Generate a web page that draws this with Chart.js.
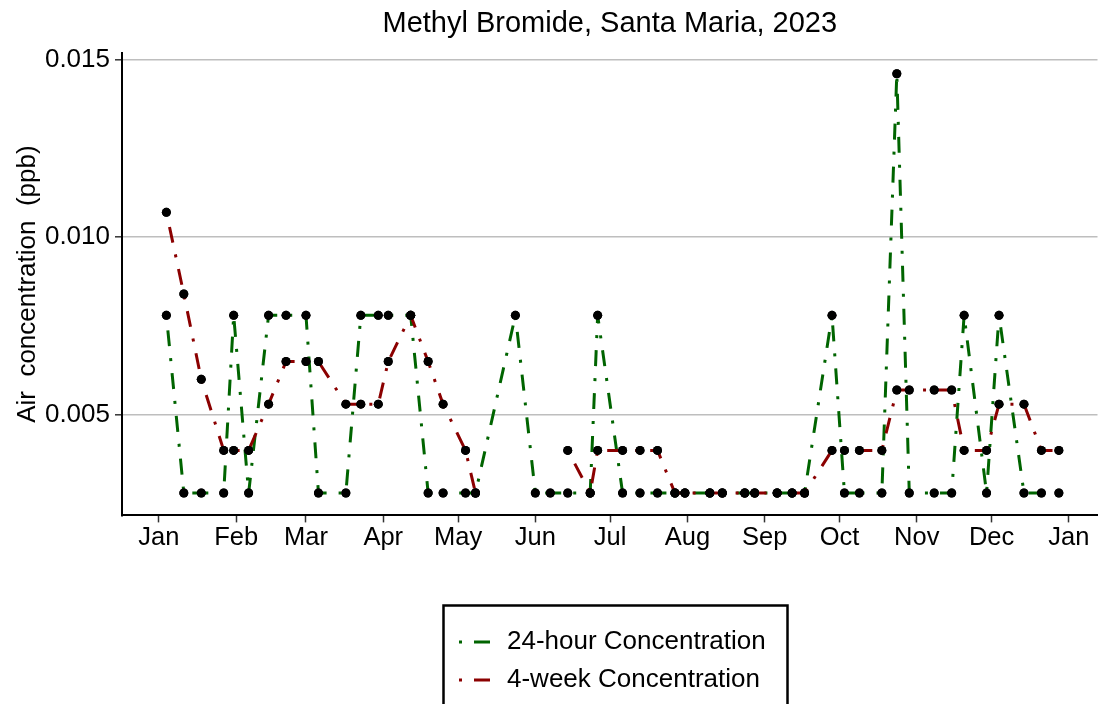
<!DOCTYPE html>
<html>
<head>
<meta charset="utf-8">
<title>Methyl Bromide, Santa Maria, 2023</title>
<script src="https://cdn.jsdelivr.net/npm/chart.js@4/dist/chart.umd.min.js"></script>
<style>
  html, body { margin: 0; padding: 0; background: #fff; }
  #wrap { width: 1102px; height: 704px; }
</style>
</head>
<body>
<div id="wrap"><canvas id="chart" width="1102" height="704"></canvas></div>
<script>
// sampling dates (both series share them)
const sampleDates = [
  '2023-01-04', '2023-01-11', '2023-01-18', '2023-01-27', '2023-01-31', '2023-02-06',
  '2023-02-14', '2023-02-21', '2023-03-01', '2023-03-06', '2023-03-17', '2023-03-23',
  '2023-03-30', '2023-04-03', '2023-04-12', '2023-04-19', '2023-04-25', '2023-05-04',
  '2023-05-08', '2023-05-24', '2023-06-01', '2023-06-07', '2023-06-14', '2023-06-23',
  '2023-06-26', '2023-07-06', '2023-07-13', '2023-07-20', '2023-07-27', '2023-07-31',
  '2023-08-10', '2023-08-15', '2023-08-24', '2023-08-28', '2023-09-06', '2023-09-12',
  '2023-09-17', '2023-09-28', '2023-10-03', '2023-10-09', '2023-10-18', '2023-10-24',
  '2023-10-29', '2023-11-08', '2023-11-15', '2023-11-20', '2023-11-29', '2023-12-04',
  '2023-12-14', '2023-12-21', '2023-12-28'
];

const hourValues = [
  0.0078, 0.0028, 0.0028, 0.0028, 0.0078, 0.0028,
  0.0078, 0.0078, 0.0078, 0.0028, 0.0028, 0.0078,
  0.0078, 0.0078, 0.0078, 0.0028, 0.0028, 0.0028,
  0.0028, 0.0078, 0.0028, 0.0028, 0.0028, 0.0028,
  0.0078, 0.0028, 0.0028, 0.0028, 0.0028, 0.0028,
  0.0028, 0.0028, 0.0028, 0.0028, 0.0028, 0.0028,
  0.0028, 0.0078, 0.0028, 0.0028, 0.0028, 0.0146,
  0.0028, 0.0028, 0.0028, 0.0078, 0.0028, 0.0078,
  0.0028, 0.0028, 0.0028
];

const weekValues = [
  0.0107, 0.0084, 0.0060, 0.0040, 0.0040, 0.0040,
  0.0053, 0.0065, 0.0065, 0.0065, 0.0053, 0.0053,
  0.0053, 0.0065, 0.0078, 0.0065, 0.0053, 0.0040,
  0.0028, null, null, null, 0.0040, 0.0028,
  0.0040, 0.0040, 0.0040, 0.0040, 0.0028, 0.0028,
  0.0028, 0.0028, 0.0028, 0.0028, 0.0028, 0.0028,
  0.0028, 0.0040, 0.0040, 0.0040, 0.0040, 0.0057,
  0.0057, 0.0057, 0.0057, 0.0040, 0.0040, 0.0053,
  0.0053, 0.0040, 0.0040
];

const monthTickDates = [
  '2023-01-01', '2023-02-01', '2023-03-01', '2023-04-01', '2023-05-01', '2023-06-01', '2023-07-01',
  '2023-08-01', '2023-09-01', '2023-10-01', '2023-11-01', '2023-12-01', '2024-01-01'
];
const monthLabels = ['Jan', 'Feb', 'Mar', 'Apr', 'May', 'Jun', 'Jul', 'Aug', 'Sep', 'Oct', 'Nov', 'Dec', 'Jan'];

const yTickValues = [0.005, 0.010, 0.015];
const yTickLabels = ['0.005', '0.010', '0.015'];

const FONT = '"Liberation Sans", Arial, sans-serif';
const LEGEND_LEFT = 447;
const LEGEND_TOP = 617;

// days since 2023-01-01
function dayOf(s) {
  const [y, m, d] = s.split('-').map(Number);
  return (Date.UTC(y, m - 1, d) - Date.UTC(2023, 0, 1)) / 86400000;
}

function toPoints(values) {
  return sampleDates.map((d, i) => ({ x: dayOf(d), y: values[i] }));
}

const lineStyle = {
  borderWidth: 3,
  borderDash: [3, 12, 16, 12],
  borderDashOffset: 0,
  borderJoinStyle: 'round',
  pointRadius: 4.5,
  pointHoverRadius: 4.5,
  pointBackgroundColor: '#000',
  pointBorderWidth: 0,
  spanGaps: false,
  tension: 0,
  fill: false
};

// put the legend in a bordered box below the plot, and keep points above the lines
const layoutFix = {
  id: 'layoutFix',
  afterLayout(chart) {
    const lg = chart.legend;
    lg.left = LEGEND_LEFT;
    lg.top = LEGEND_TOP;
    lg.right = LEGEND_LEFT + 336;
    lg.bottom = 760;
  },
  afterDatasetsDraw(chart) {
    const ctx = chart.ctx;
    chart.getSortedVisibleDatasetMetas().forEach(meta => {
      meta.data.forEach(pt => pt.draw(ctx, chart.chartArea));
    });
  },
  afterDraw(chart) {
    const ctx = chart.ctx;
    ctx.save();
    ctx.strokeStyle = '#000';
    ctx.lineWidth = 2.5;
    ctx.setLineDash([]);
    ctx.strokeRect(LEGEND_LEFT - 3.5, LEGEND_TOP - 11.5, 344, 130);
    ctx.restore();
  }
};

new Chart(document.getElementById('chart'), {
  type: 'line',
  data: {
    datasets: [
      {
        label: '24-hour Concentration',
        data: toPoints(hourValues),
        borderColor: '#006400',
        order: 1,
        ...lineStyle
      },
      {
        label: '4-week Concentration',
        data: toPoints(weekValues),
        borderColor: '#8B0000',
        order: 0,
        ...lineStyle
      }
    ]
  },
  options: {
    responsive: false,
    animation: false,
    devicePixelRatio: 1,
    events: [],
    layout: { padding: { left: 0, right: 0, top: 0, bottom: 143.6 } },
    plugins: {
      title: {
        display: true,
        fullSize: false,
        text: 'Methyl Bromide, Santa Maria, 2023',
        color: '#000',
        font: { family: FONT, size: 29, weight: 'normal' },
        padding: { top: 7, bottom: 11 }
      },
      legend: {
        position: 'chartArea',
        align: 'start',
        labels: {
          usePointStyle: true,
          pointStyle: 'line',
          pointStyleWidth: 35,
          padding: 12,
          color: '#000',
          font: { family: FONT, size: 26 },
          generateLabels: chart => chart.data.datasets.map((ds, i) => ({
            text: ds.label,
            fillStyle: ds.borderColor,
            strokeStyle: ds.borderColor,
            lineWidth: ds.borderWidth,
            lineDash: ds.borderDash,
            lineDashOffset: ds.borderDashOffset,
            pointStyle: 'line',
            fontColor: '#000',
            hidden: false,
            datasetIndex: i
          }))
        }
      },
      tooltip: { enabled: false }
    },
    scales: {
      x: {
        type: 'linear',
        min: -14.8,
        max: 376.5,
        afterBuildTicks: scale => {
          scale.ticks = monthTickDates.map(d => ({ value: dayOf(d) }));
        },
        afterFit: scale => { scale.height = 45; },
        ticks: {
          autoSkip: false,
          maxRotation: 0,
          padding: 0,
          color: '#000',
          font: { family: FONT, size: 25.5 },
          callback: (v, i) => monthLabels[i]
        },
        grid: {
          display: true,
          drawOnChartArea: false,
          drawTicks: true,
          tickLength: 7,
          tickColor: '#333',
          tickWidth: 1.5
        },
        border: { display: true, color: '#000', width: 2 }
      },
      y: {
        min: 0.00217,
        max: 0.01519,
        afterBuildTicks: scale => {
          scale.ticks = yTickValues.map(v => ({ value: v }));
        },
        afterFit: scale => { scale.width = 122; },
        ticks: {
          padding: 5,
          color: '#000',
          font: { family: FONT, size: 26 },
          callback: (v, i) => yTickLabels[i]
        },
        grid: {
          color: '#bebebe',
          lineWidth: 1.6,
          drawTicks: true,
          tickLength: 7,
          tickColor: '#333',
          tickWidth: 1.5
        },
        border: { display: true, color: '#000', width: 2 },
        title: {
          display: true,
          text: 'Air  concentration  (ppb)',
          color: '#000',
          font: { family: FONT, size: 26 },
          padding: { top: 12, bottom: 0 }
        }
      }
    }
  },
  plugins: [layoutFix]
});
</script>
</body>
</html>
